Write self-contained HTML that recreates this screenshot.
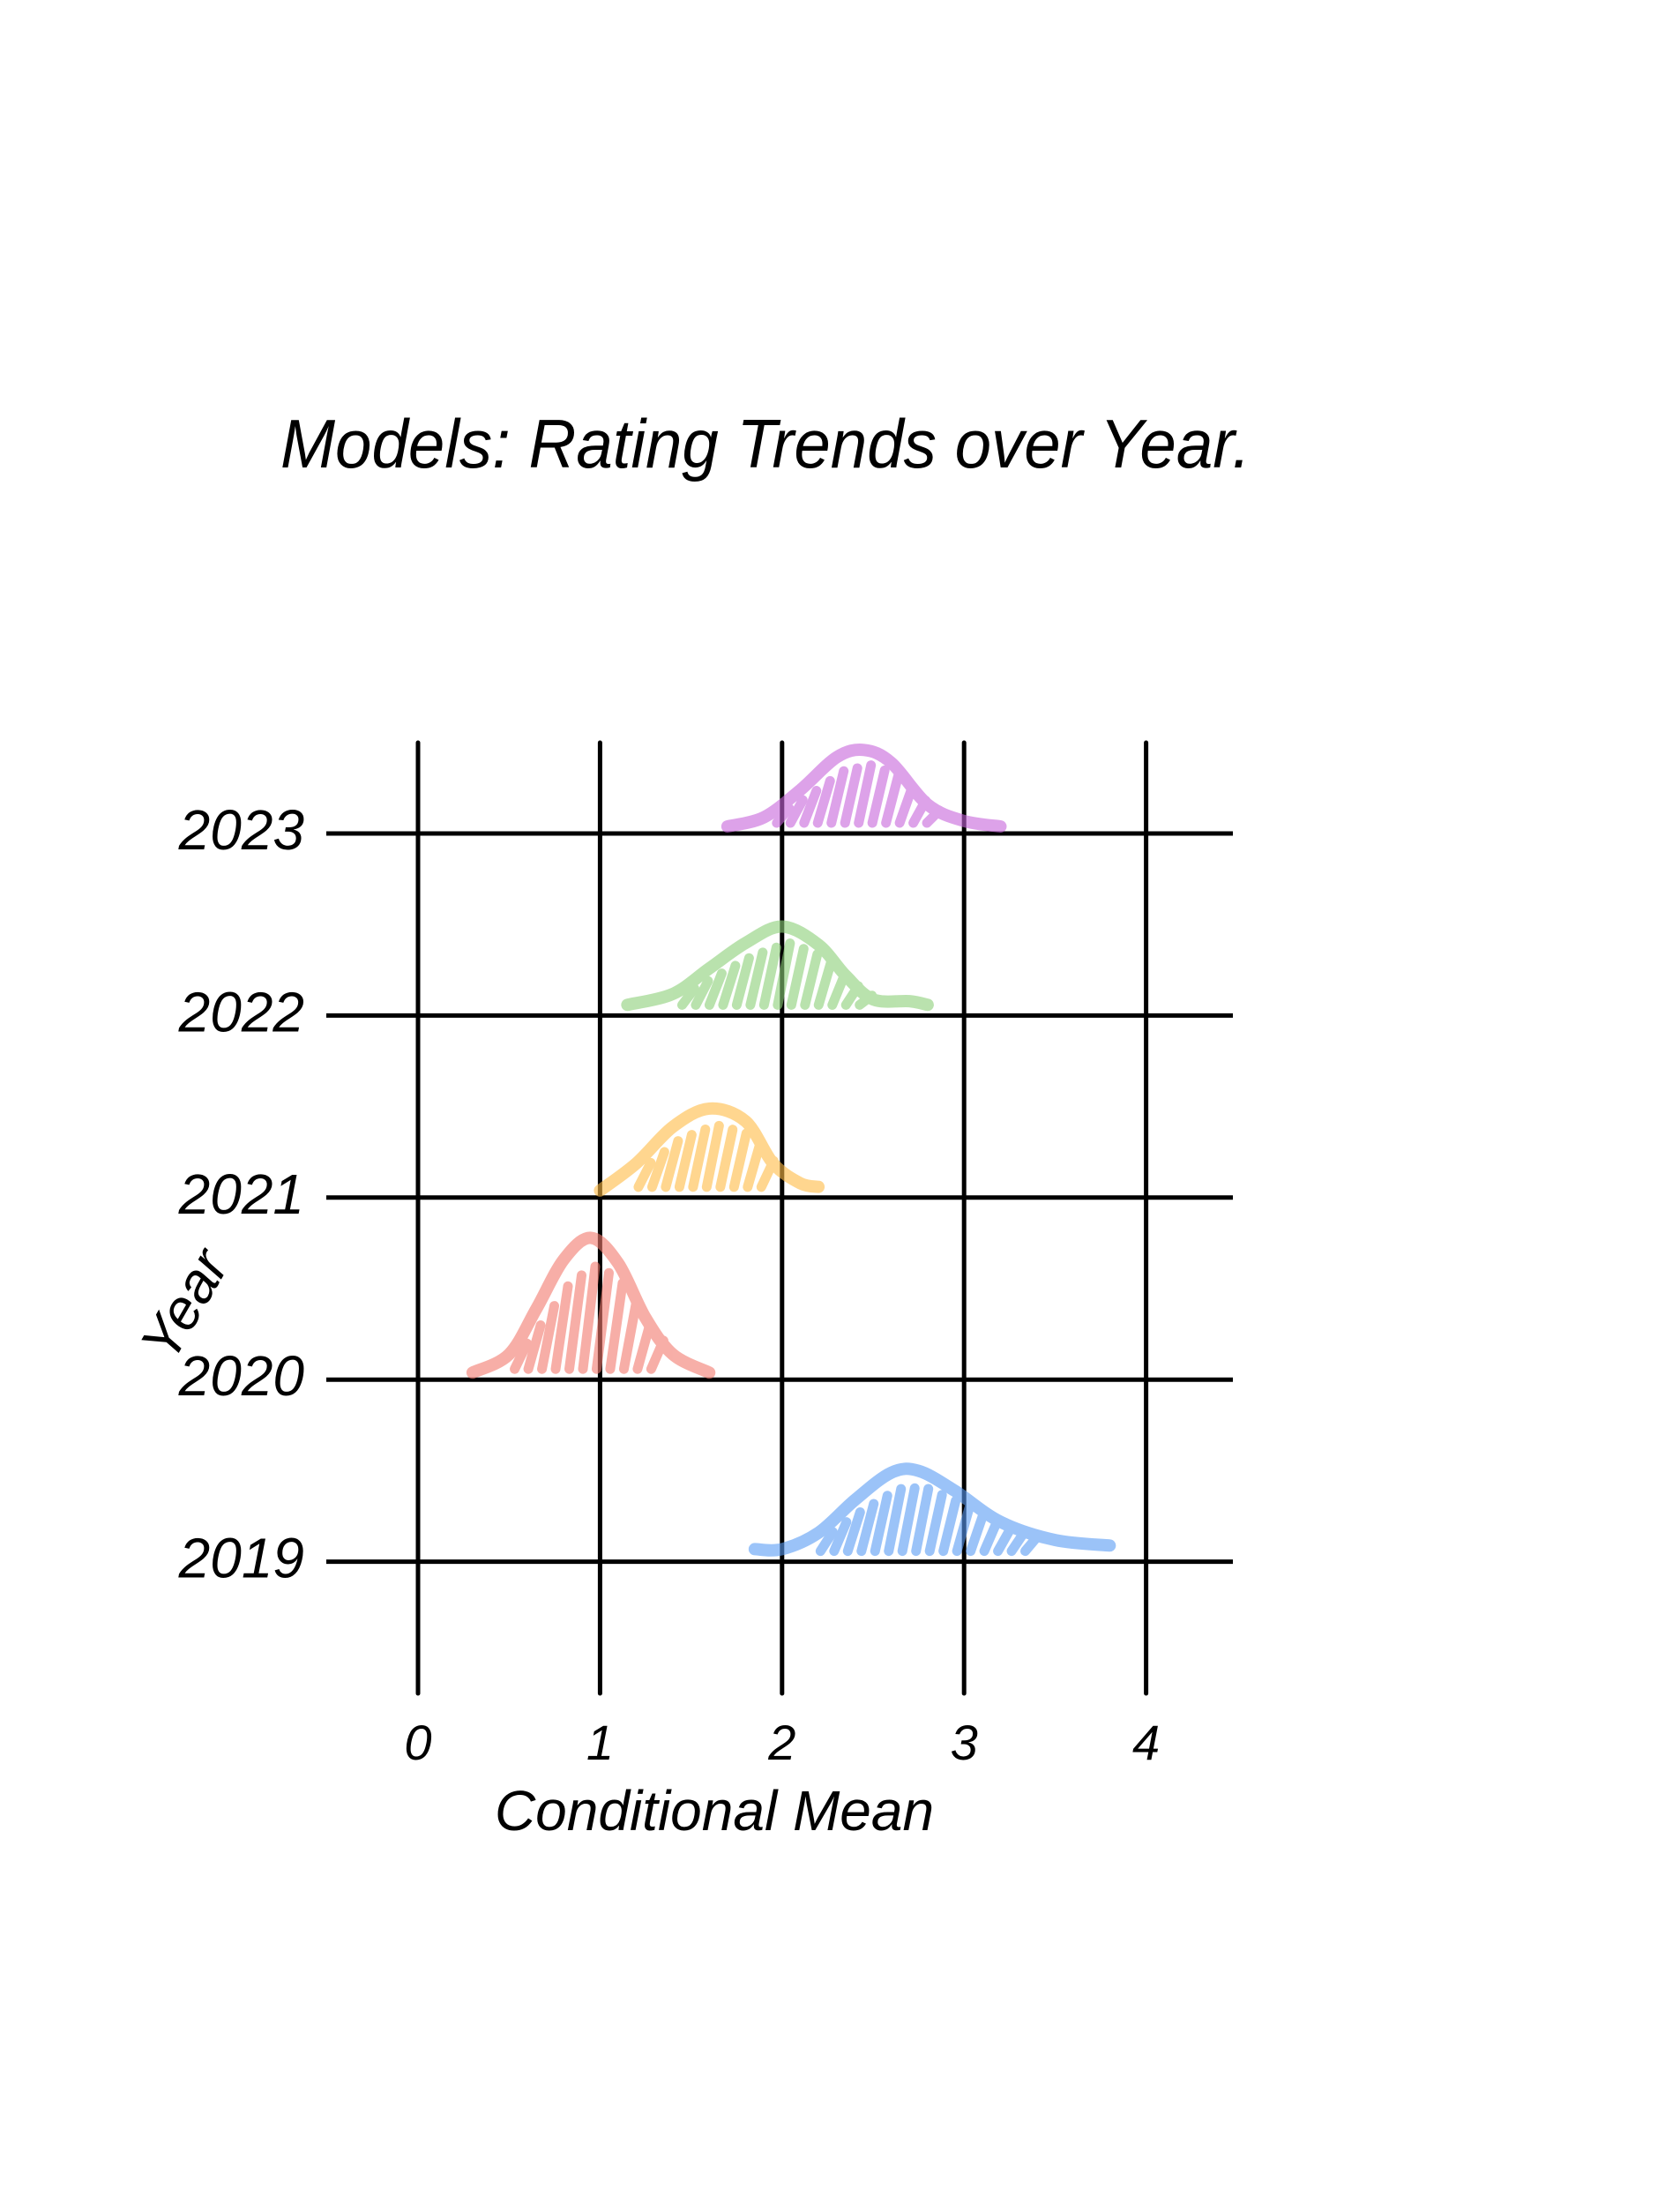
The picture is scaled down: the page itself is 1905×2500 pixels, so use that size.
<!DOCTYPE html>
<html><head><meta charset="utf-8"><style>
html,body{margin:0;padding:0;background:#fff;}
svg{display:block;}
text{font-family:"Liberation Sans",sans-serif;fill:#000;}
</style></head><body>
<svg id="chart" width="1905" height="2500" viewBox="0 0 1905 2500" xmlns="http://www.w3.org/2000/svg">
<text x="318" y="530" font-size="78" font-style="italic" textLength="1100" lengthAdjust="spacingAndGlyphs">Models:  Rating Trends   over Year.</text>
<g id="grid"></g>
<g id="ridges"></g>
<g id="labels"></g>
<text x="810" y="2075" font-size="64" font-style="italic" text-anchor="middle">Conditional Mean</text>
<text x="0" y="0" font-size="64" font-style="italic" text-anchor="middle" transform="translate(228,1490) rotate(-60)">Year</text>
</svg>
<script>
const years = [2019, 2020, 2021, 2022, 2023];
const xTicks = [0, 1, 2, 3, 4];
const colors = ["#5a9cf5", "#f27a6e", "#ffbb45", "#8ccf78", "#c865dc"];
const xs2019 = [1.85, 2.0, 2.2, 2.4, 2.6, 2.75, 2.95, 3.2, 3.5, 3.8];
const hs2019 = [0.03, 0.03, 0.12, 0.3, 0.45, 0.46, 0.35, 0.18, 0.08, 0.05];
const xs2020 = [0.3, 0.5, 0.65, 0.8, 0.95, 1.1, 1.25, 1.4, 1.6];
const hs2020 = [0.0, 0.1, 0.35, 0.62, 0.74, 0.6, 0.3, 0.1, 0.0];
const xs2021 = [1.0, 1.2, 1.4, 1.6, 1.8, 1.95, 2.1, 2.2];
const hs2021 = [0.0, 0.15, 0.35, 0.45, 0.38, 0.15, 0.04, 0.02];
const xs2022 = [1.15, 1.4, 1.6, 1.8, 2.0, 2.2, 2.35, 2.5, 2.7, 2.8];
const hs2022 = [0.02, 0.08, 0.22, 0.36, 0.45, 0.35, 0.18, 0.05, 0.04, 0.02];
const xs2023 = [1.7, 1.9, 2.1, 2.3, 2.45, 2.6, 2.8, 3.0, 3.2];
const hs2023 = [0.0, 0.05, 0.2, 0.38, 0.42, 0.35, 0.12, 0.03, 0.0];

const NS = "http://www.w3.org/2000/svg";
const X0 = 474, DX = 206.4, YTOP = 945, DY = 206.4;
const xScale = v => X0 + v * DX;
const rowY = i => YTOP + (years.length - 1 - i) * DY;
function mk(tag, attrs, parent) {
  const e = document.createElementNS(NS, tag);
  for (const k in attrs) e.setAttribute(k, attrs[k]);
  parent.appendChild(e);
  return e;
}
const grid = document.getElementById('grid');
const ridges = document.getElementById('ridges');
const labels = document.getElementById('labels');
xTicks.forEach(t => {
  const l = mk('line', {x1: xScale(t), x2: xScale(t), y1: 842, y2: 1920, stroke: '#000', 'stroke-width': 5, 'stroke-linecap': 'round'}, grid);
  
  
  const tx = mk('text', {x: xScale(t), y: 1995, 'font-size': 56, 'text-anchor': 'middle', 'font-style': 'italic'}, labels);
  tx.textContent = t;
  
  
});
const series = {2019: [xs2019, hs2019], 2020: [xs2020, hs2020], 2021: [xs2021, hs2021], 2022: [xs2022, hs2022], 2023: [xs2023, hs2023]};
years.forEach((yr, i) => {
  const y = rowY(i);
  const l = mk('line', {x1: 370, x2: 1398, y1: y, y2: y, stroke: '#000', 'stroke-width': 5}, grid);
  
  
  const tx = mk('text', {x: 345, y: y + 18, 'font-size': 64, 'text-anchor': 'end', 'font-style': 'italic'}, labels);
  tx.textContent = yr;
  
  
  const [xs, hs] = series[yr];
  const g = mk('g', {opacity: 0.6}, ridges);
  
  
  const pts = xs.map((v, k) => [xScale(v), y - 8 - hs[k] * DY]);
  let d = 'M' + pts[0][0] + ' ' + pts[0][1];
  for (let k = 1; k < pts.length; k++) {
    const p0 = pts[k - 1], p1 = pts[k];
    const pm = pts[k - 2] || p0, pn = pts[k + 1] || p1;
    const c1x = p0[0] + (p1[0] - pm[0]) / 6, c1y = p0[1] + (p1[1] - pm[1]) / 6;
    const c2x = p1[0] - (pn[0] - p0[0]) / 6, c2y = p1[1] - (pn[1] - p0[1]) / 6;
    d += ' C' + c1x + ' ' + c1y + ' ' + c2x + ' ' + c2y + ' ' + p1[0] + ' ' + p1[1];
  }
  const p = mk('path', {d: d, fill: 'none', stroke: colors[i], 'stroke-width': 14, 'stroke-linecap': 'round', 'stroke-linejoin': 'round'}, g);
  
  
  const minX = xs[0], maxX = xs[xs.length - 1];
  const interp = v => { for (let k = 1; k < xs.length; k++) if (v <= xs[k]) { const f = (v - xs[k-1]) / (xs[k] - xs[k-1]); return hs[k-1] + f * (hs[k] - hs[k-1]); } return 0; };
  const step = 0.075;
  for (let v = minX + (maxX - minX) * 0.2; v < minX + (maxX - minX) * 0.8; v += step) {
    const h = interp(v);
    if (h < 0.08) continue;
    const hl = mk('line', {x1: xScale(v) - 6, y1: y - 12, x2: xScale(v) + 8, y2: y - 8 - h * DY * 0.8, stroke: colors[i], 'stroke-width': 11, 'stroke-linecap': 'round'}, g);
    
    
  }
});
</script>
</body></html>
